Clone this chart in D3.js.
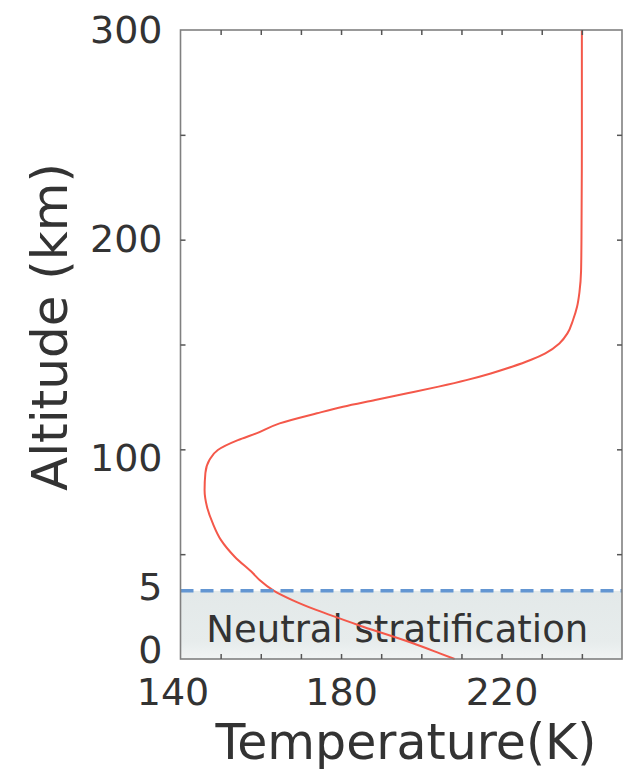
<!DOCTYPE html>
<html>
<head>
<meta charset="utf-8">
<script src="https://cdn.jsdelivr.net/npm/d3@7"></script>
<style>
  html, body { margin: 0; padding: 0; background: #fff; }
  svg { display: block; }
  text { font-family: "DejaVu Sans", Verdana, sans-serif; fill: #333; }
</style>
</head>
<body>
<svg id="chart" width="626" height="771"></svg>
<script>
// ---- data ----
const altitude = [0, 2.7, 7.5, 15.4, 23.4, 28, 32.4, 37.7, 41, 48.8, 56.7, 64.9, 72.6, 80.6, 88.7, 94.9, 99.7,
  104.4, 107.6, 112.4, 117.2, 120.3, 123.5, 126.7, 129.9, 133, 136.2, 139.4, 142.6, 145.8, 150.5, 155.3,
  161.7, 168, 175, 185, 200, 250, 300];
const temperature = [208.3, 204.6, 197.9, 185.5, 173.8, 168, 163.4, 159.7, 158, 153.5, 150.1, 148, 146.6, 146, 146.2, 147.2, 149.3,
  154.3, 158.9, 164.7, 174, 180.5, 188.5, 196.5, 204.3, 211.2, 217.3, 222.6, 227.2, 230.9, 234.4, 236.4,
  237.8, 238.8, 239.4, 239.8, 239.9, 240, 240];

const xDomain = [140, 250];
const yDomain = [0, 300];
const xTickValues = [140, 180, 220];
const xTickLabels = ["140", "180", "220"];
const xMinorTicks = [150, 160, 170, 180, 190, 200, 210, 220, 230, 240];
const yTickValues = [0, 32.5, 100, 200, 300];
const yTickLabels = ["0", "5", "100", "200", "300"];
const yMinorTicks = [50, 100, 150, 200, 250];
const neutralTop = 32.5;
const neutralLabel = "Neutral stratification";
const xTitle = "Temperature(K)";
const yTitle = "Altitude (km)";

// ---- layout ----
const svg = d3.select("#chart");
const pLeft = 180.5, pRight = 622, pTop = 30, pBottom = 659;
const x = d3.scaleLinear().domain(xDomain).range([pLeft, pRight]);
const y = d3.scaleLinear().domain(yDomain).range([pBottom, pTop]);

const defs = svg.append("defs");
const grad = defs.append("linearGradient").attr("id", "band").attr("x1", 0).attr("y1", 0).attr("x2", 0).attr("y2", 1);
grad.append("stop").attr("offset", "0%").attr("stop-color", "#e3e9e9");
grad.append("stop").attr("offset", "75%").attr("stop-color", "#e7ecec");
grad.append("stop").attr("offset", "100%").attr("stop-color", "#f1f4f4");

// neutral band
svg.append("rect")
  .attr("x", x(xDomain[0])).attr("width", x(xDomain[1]) - x(xDomain[0]))
  .attr("y", y(neutralTop)).attr("height", y(0) - y(neutralTop))
  .attr("fill", "url(#band)");

svg.append("text")
  .attr("x", (x(xDomain[0]) + x(xDomain[1])) / 2 - 4)
  .attr("y", y(0) - 17)
  .attr("text-anchor", "middle")
  .attr("font-size", 37)
  .text(neutralLabel);

// curve
const pts = altitude.map((h, i) => [temperature[i], h]);
const line = d3.line().x(d => x(d[0])).y(d => y(d[1])).curve(d3.curveMonotoneY);
svg.append("path").datum(pts)
  .attr("d", line)
  .attr("fill", "none")
  .attr("stroke", "#f4584a")
  .attr("stroke-width", 2);

// dashed line
svg.append("line")
  .attr("x1", x(xDomain[0])).attr("x2", x(xDomain[1]))
  .attr("y1", y(neutralTop)).attr("y2", y(neutralTop))
  .attr("stroke", "#6396d2").attr("stroke-width", 3.5)
  .attr("stroke-dasharray", "13,7");

// frame
svg.append("rect")
  .attr("x", pLeft).attr("y", pTop).attr("width", pRight - pLeft).attr("height", pBottom - pTop)
  .attr("fill", "none").attr("stroke", "#808080").attr("stroke-width", 1.6);

// inner minor ticks
const tickStyle = g => g.call(s => s.select(".domain").remove())
  .call(s => s.selectAll("line").attr("stroke", "#555").attr("stroke-width", 1.5));
svg.append("g").attr("transform", `translate(0,${pBottom})`)
  .call(d3.axisTop(x).tickValues(xMinorTicks).tickSize(5).tickFormat(""))
  .call(tickStyle);
svg.append("g").attr("transform", `translate(0,${pTop})`)
  .call(d3.axisBottom(x).tickValues(xMinorTicks).tickSize(5).tickFormat(""))
  .call(tickStyle);
svg.append("g").attr("transform", `translate(${pLeft},0)`)
  .call(d3.axisRight(y).tickValues(yMinorTicks).tickSize(5).tickFormat(""))
  .call(tickStyle);
svg.append("g").attr("transform", `translate(${pRight},0)`)
  .call(d3.axisLeft(y).tickValues(yMinorTicks).tickSize(5).tickFormat(""))
  .call(tickStyle);

// labelled axes
const xAxis = svg.append("g").attr("transform", `translate(0,${pBottom})`)
  .call(d3.axisBottom(x).tickValues(xTickValues).tickSize(0).tickPadding(19)
    .tickFormat((d, i) => xTickLabels[i]));
xAxis.select(".domain").remove();
xAxis.selectAll("text").attr("font-size", 38).attr("font-family", "DejaVu Sans").attr("fill", "#333")
  .attr("dx", (d, i) => i === 0 ? -8 : 0);

const yAxis = svg.append("g").attr("transform", `translate(${pLeft},0)`)
  .call(d3.axisLeft(y).tickValues(yTickValues).tickSize(0).tickPadding(18)
    .tickFormat((d, i) => yTickLabels[i]));
yAxis.select(".domain").remove();
yAxis.selectAll("text").attr("font-size", 38).attr("font-family", "DejaVu Sans").attr("fill", "#333")
  .attr("dy", (d, i) => i === 0 ? "0.1em" : (i === 2 ? "0.55em" : (i === 1 ? "0.22em" : "0.32em")));

// titles
svg.append("text")
  .attr("x", 406).attr("y", 759)
  .attr("text-anchor", "middle").attr("font-size", 49)
  .text(xTitle);
svg.append("text")
  .attr("transform", "translate(67,327) rotate(-90)")
  .attr("text-anchor", "middle").attr("font-size", 50)
  .text(yTitle);
</script>
</body>
</html>
